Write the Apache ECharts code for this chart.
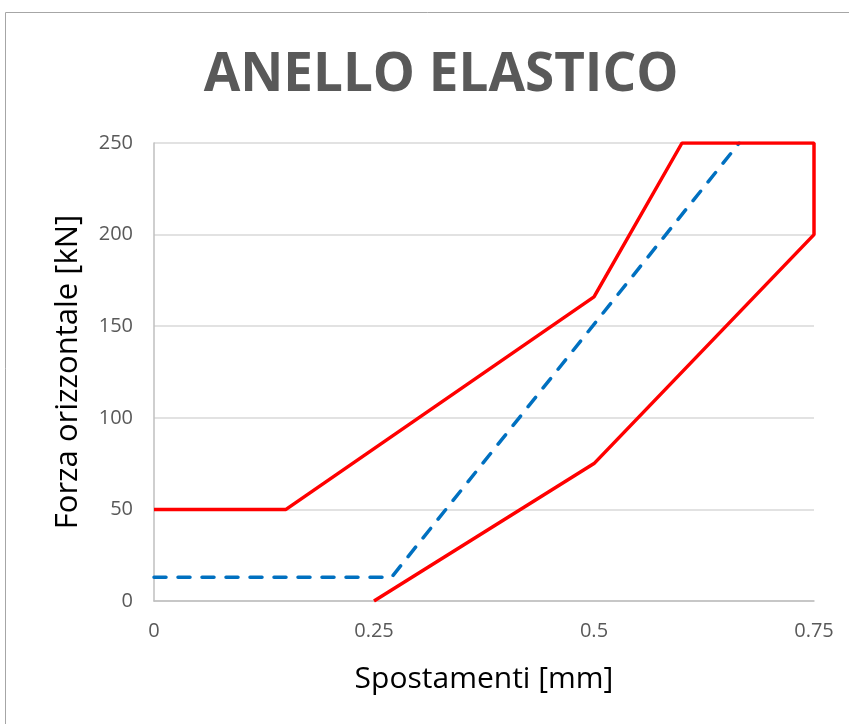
<!DOCTYPE html>
<html><head><meta charset="utf-8">
<script src="https://cdn.jsdelivr.net/npm/echarts@6/dist/echarts.min.js"></script>
<style>html,body{margin:0;padding:0;background:#fff}#c{width:849px;height:724px}</style>
</head><body><div id="c"></div>
<script>
const titleText = "ANELLO ELASTICO";
const xName = "Spostamenti [mm]";
const yName = "Forza orizzontale [kN]";
const xTicks = [0, 0.25, 0.5, 0.75];
const yTicks = [0, 50, 100, 150, 200, 250];
const redX = [0, 0.15, 0.5, 0.6, 0.75, 0.75, 0.5, 0.25];
const redY = [50, 50, 166, 250, 250, 200, 75, 0];
const blueX = [0, 0.27, 0.665];
const blueY = [13, 13, 250];

const chart = echarts.init(document.getElementById('c'));
const font = "Open Sans, Liberation Sans, sans-serif";
chart.setOption({
  animation: false,
  backgroundColor: '#fff',
  graphic: [{
    type: 'rect', shape: {x: 5.5, y: 12.5, width: 900, height: 800},
    style: {fill: 'none', stroke: '#a6a6a6', lineWidth: 1}, silent: true, z: -1
  }],
  title: {
    text: titleText, left: 436, top: 44, textAlign: 'center',
    textStyle: {fontFamily: font, fontSize: 53, fontWeight: 'bold', color: '#595959'}
  },
  grid: {left: 154, right: 35, top: 143, bottom: 123},
  xAxis: {
    type: 'value', min: 0, max: 0.75, interval: 0.25,
    name: xName, nameLocation: 'middle', nameGap: 63,
    nameTextStyle: {fontFamily: font, fontSize: 30, color: '#000'},
    axisLine: {show: true, lineStyle: {color: '#bfbfbf', width: 1.5}},
    axisTick: {show: false},
    splitLine: {show: false},
    axisLabel: {fontFamily: font, fontSize: 20, color: '#595959', margin: 20,
      formatter: v => xTicks.includes(v) ? String(v) : ''}
  },
  yAxis: {
    type: 'value', min: 0, max: 250, interval: 50,
    name: yName, nameLocation: 'middle', nameGap: 70,
    nameTextStyle: {fontFamily: font, fontSize: 31, color: '#000'},
    axisLine: {show: true, lineStyle: {color: '#bfbfbf', width: 1.5}},
    axisTick: {show: false},
    splitLine: {show: true, lineStyle: {color: '#d9d9d9', width: 1.5}},
    axisLabel: {fontFamily: font, fontSize: 20, color: '#595959', margin: 21,
      formatter: v => yTicks.includes(v) ? String(v) : ''}
  },
  series: [{
    type: 'line', data: redX.map((x, i) => [x, redY[i]]), symbol: 'none',
    lineStyle: {color: '#ff0000', width: 3.5}, z: 3
  }, {
    type: 'line', data: blueX.map((x, i) => [x, blueY[i]]), symbol: 'none',
    lineStyle: {color: '#0070c0', width: 3.5, type: [12, 12], cap: 'round'}, z: 2
  }]
});
</script></body></html>
